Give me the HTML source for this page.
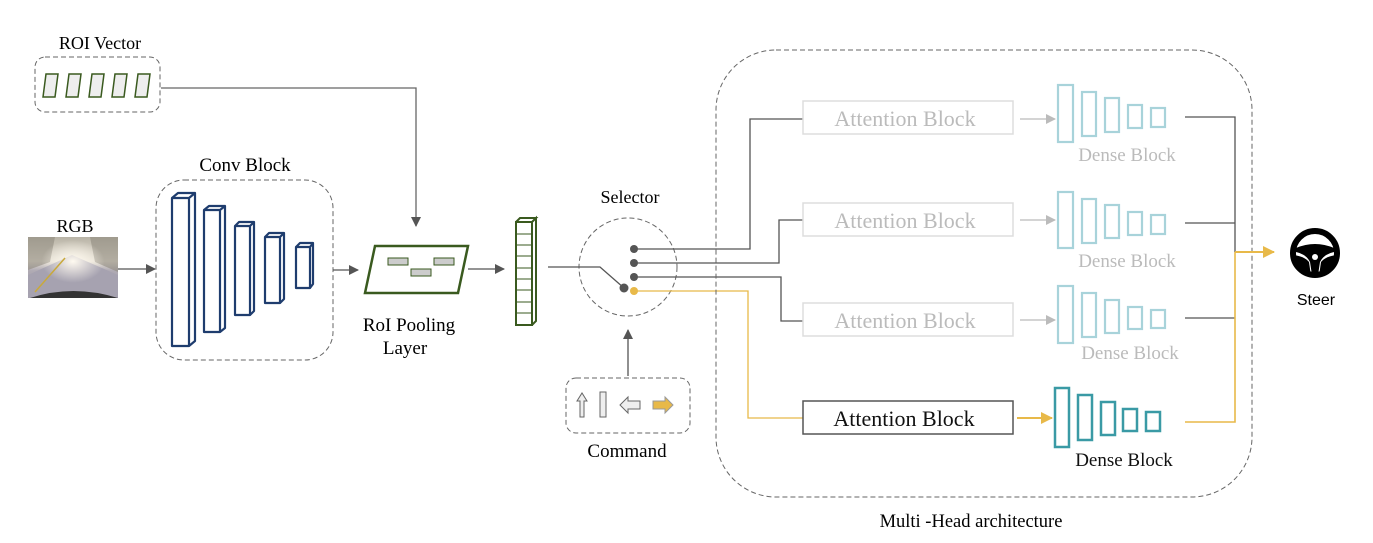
<!DOCTYPE html>
<html><head><meta charset="utf-8"><style>
html,body{margin:0;padding:0;background:#fff;}
svg{display:block;}
text{font-family:"Liberation Serif",serif;}
</style></head><body>
<svg width="1373" height="543" viewBox="0 0 1373 543" xmlns="http://www.w3.org/2000/svg">
<defs>
<marker id="ag" markerWidth="10" markerHeight="10" refX="9" refY="5" orient="auto" markerUnits="userSpaceOnUse"><path d="M0,0 L10,5 L0,10 Z" fill="#555"/></marker>
<marker id="al" markerWidth="10" markerHeight="10" refX="9" refY="5" orient="auto" markerUnits="userSpaceOnUse"><path d="M0,0 L10,5 L0,10 Z" fill="#bbb"/></marker>
<marker id="ay" markerWidth="12" markerHeight="12" refX="11" refY="6" orient="auto" markerUnits="userSpaceOnUse"><path d="M0,0 L12,6 L0,12 Z" fill="#e8b949"/></marker>
<linearGradient id="sky" x1="0" y1="0" x2="0" y2="1"><stop offset="0" stop-color="#b8b3a6"/><stop offset="0.4" stop-color="#e8e2d6"/><stop offset="0.55" stop-color="#b0abb4"/><stop offset="1" stop-color="#9a95a0"/></linearGradient>
<radialGradient id="sun" cx="0.5" cy="0.4" r="0.35"><stop offset="0" stop-color="#fffaf0"/><stop offset="1" stop-color="#fffaf0" stop-opacity="0"/></radialGradient>
</defs>

<!-- ROI Vector -->
<text x="100" y="49" font-size="18" text-anchor="middle">ROI Vector</text>
<rect x="35" y="57" width="125" height="55" rx="10" fill="none" stroke="#666" stroke-dasharray="5,3"/>
<g fill="#eee" stroke="#3a5a1f" stroke-width="1.5">
<path d="M46,74 H58 L55,97 H43 Z"/><path d="M69,74 H81 L78,97 H66 Z"/><path d="M92,74 H104 L101,97 H89 Z"/><path d="M115,74 H127 L124,97 H112 Z"/><path d="M138,74 H150 L147,97 H135 Z"/>
</g>
<polyline points="161,88 416,88 416,226" fill="none" stroke="#666" stroke-width="1.3" marker-end="url(#ag)"/>

<!-- RGB -->
<text x="75" y="232" font-size="18" text-anchor="middle">RGB</text>
<rect x="28" y="237" width="90" height="61" fill="url(#sky)"/>
<path d="M28,237 L28,270 L50,262 L55,237 Z" fill="#8f8a7e" opacity="0.6"/>
<path d="M118,237 L118,272 L95,262 L90,237 Z" fill="#8f8a7e" opacity="0.6"/>
<path d="M28,275 L72,255 L118,275 L118,298 L28,298 Z" fill="#a6a2b0"/>
<rect x="28" y="237" width="90" height="61" fill="url(#sun)"/>
<path d="M35,292 L65,258" stroke="#c9a93a" stroke-width="1.5"/>
<path d="M30,298 Q73,284 118,298 Z" fill="#333"/>
<line x1="118" y1="269" x2="155" y2="269" stroke="#555" stroke-width="1.3" marker-end="url(#ag)"/>

<!-- Conv block -->
<text x="245" y="171" font-size="19" text-anchor="middle">Conv Block</text>
<rect x="156" y="180" width="177" height="180" rx="28" fill="none" stroke="#666" stroke-dasharray="5,3"/>
<g fill="#fff" stroke="#1f3d6e" stroke-width="2.2" stroke-linejoin="round">
<path d="M172,198 h17 v148 h-17 Z M172,198 l6,-5 h17 l-6,5 M189,198 l6,-5 v148 l-6,5"/>
<path d="M204,210 h16 v122 h-16 Z M204,210 l5,-4 h16 l-5,4 M220,210 l5,-4 v122 l-5,4"/>
<path d="M235,226 h15 v89 h-15 Z M235,226 l4,-4 h15 l-4,4 M250,226 l4,-4 v89 l-4,4"/>
<path d="M265,237 h15 v66 h-15 Z M265,237 l4,-4 h15 l-4,4 M280,237 l4,-4 v66 l-4,4"/>
<path d="M296,247 h14 v41 h-14 Z M296,247 l4,-4 h13 l-3,4 M310,247 l3,-4 v41 l-3,4"/>
</g>
<line x1="333" y1="270" x2="358" y2="270" stroke="#555" stroke-width="1.3" marker-end="url(#ag)"/>

<!-- RoI pooling -->
<path d="M375,246 H468 L458,293 H365 Z" fill="#fff" stroke="#3a5a1f" stroke-width="2.5"/>
<g fill="#ccc" stroke="#3a5a1f" stroke-width="1"><rect x="388" y="258" width="20" height="7"/><rect x="434" y="258" width="20" height="7"/><rect x="411" y="269" width="20" height="7"/></g>
<text x="409" y="331" font-size="19" text-anchor="middle">RoI Pooling</text>
<text x="405" y="354" font-size="19" text-anchor="middle">Layer</text>
<line x1="468" y1="269" x2="504" y2="269" stroke="#555" stroke-width="1.3" marker-end="url(#ag)"/>

<!-- feature column -->
<g fill="#fff" stroke="#3a5a1f" stroke-width="2">
<path d="M516,222 h16 v103 h-16 Z M516,222 l4,-4 h16 l-4,4 M532,222 l4,-4 v103 l-4,4"/>
</g>
<g stroke="#3a5a1f" stroke-width="1">
<line x1="516" y1="234" x2="532" y2="234"/><line x1="516" y1="245" x2="532" y2="245"/><line x1="516" y1="256" x2="532" y2="256"/><line x1="516" y1="268" x2="532" y2="268"/><line x1="516" y1="279" x2="532" y2="279"/><line x1="516" y1="290" x2="532" y2="290"/><line x1="516" y1="302" x2="532" y2="302"/><line x1="516" y1="313" x2="532" y2="313"/>
</g>

<!-- selector -->
<text x="630" y="203" font-size="18" text-anchor="middle">Selector</text>
<circle cx="628" cy="267" r="49" fill="none" stroke="#666" stroke-dasharray="5,3"/>
<polyline points="548,267 600,267 624,288" fill="none" stroke="#555" stroke-width="1.3"/>
<g fill="none" stroke-width="1.3">
<polyline points="634,249 750,249 750,119 803,119" stroke="#555"/>
<polyline points="634,263 779,263 779,220 803,220" stroke="#555"/>
<polyline points="634,277 781,277 781,321 803,321" stroke="#555"/>
<polyline points="634,291 748,291 748,418 803,418" stroke="#e8b949"/>
</g>
<circle cx="624" cy="288" r="4.5" fill="#555"/>
<circle cx="634" cy="249" r="4" fill="#555"/><circle cx="634" cy="263" r="4" fill="#555"/><circle cx="634" cy="277" r="4" fill="#555"/><circle cx="634" cy="291" r="4" fill="#e8b949"/>
<line x1="628" y1="376" x2="628" y2="330" stroke="#555" stroke-width="1.3" marker-end="url(#ag)"/>

<!-- command -->
<rect x="566" y="378" width="124" height="55" rx="10" fill="none" stroke="#666" stroke-dasharray="5,3"/>
<path d="M580,417 v-16 h-3 l5,-8 l5,8 h-3 v16 Z" fill="#eee" stroke="#666"/>
<rect x="600" y="392" width="6" height="25" fill="#eee" stroke="#666"/>
<path d="M640,401 h-12 v-4 l-8,8 l8,8 v-4 h12 Z" fill="#eee" stroke="#666"/>
<path d="M653,401 h12 v-4 l8,8 l-8,8 v-4 h-12 Z" fill="#e8b949" stroke="#999"/>
<text x="627" y="457" font-size="19" text-anchor="middle">Command</text>

<!-- multi-head -->
<rect x="716" y="50" width="536" height="447" rx="60" fill="none" stroke="#666" stroke-dasharray="5,3"/>
<text x="971" y="527" font-size="18.5" text-anchor="middle">Multi -Head architecture</text>

<g fill="#fff" stroke="#ddd" stroke-width="1.5">
<rect x="803" y="101" width="210" height="33"/><rect x="803" y="203" width="210" height="33"/><rect x="803" y="303" width="210" height="33"/>
</g>
<rect x="803" y="401" width="210" height="33" fill="#fff" stroke="#555" stroke-width="1.5"/>
<g font-size="22" text-anchor="middle" fill="#bbb">
<text x="905" y="126">Attention Block</text><text x="905" y="228">Attention Block</text><text x="905" y="328">Attention Block</text>
</g>
<text x="904" y="426" font-size="22" text-anchor="middle" fill="#111">Attention Block</text>

<line x1="1020" y1="119" x2="1055" y2="119" stroke="#bbb" stroke-width="1.3" marker-end="url(#al)"/>
<line x1="1020" y1="220" x2="1055" y2="220" stroke="#bbb" stroke-width="1.3" marker-end="url(#al)"/>
<line x1="1020" y1="320" x2="1055" y2="320" stroke="#bbb" stroke-width="1.3" marker-end="url(#al)"/>
<line x1="1017" y1="418" x2="1052" y2="418" stroke="#e8b949" stroke-width="2" marker-end="url(#ay)"/>

<g fill="none" stroke="#a8d3da" stroke-width="2.2">
<rect x="1058" y="85" width="15" height="57"/><rect x="1082" y="92" width="14" height="44"/><rect x="1105" y="98" width="14" height="34"/><rect x="1128" y="105" width="14" height="23"/><rect x="1151" y="108" width="14" height="19"/>
<rect x="1058" y="192" width="15" height="56"/><rect x="1082" y="199" width="14" height="44"/><rect x="1105" y="205" width="14" height="33"/><rect x="1128" y="212" width="14" height="23"/><rect x="1151" y="215" width="14" height="19"/>
<rect x="1058" y="286" width="15" height="57"/><rect x="1082" y="293" width="14" height="44"/><rect x="1105" y="300" width="14" height="33"/><rect x="1128" y="307" width="14" height="22"/><rect x="1151" y="310" width="14" height="18"/>
</g>
<g fill="none" stroke="#3a9aa5" stroke-width="2.5">
<rect x="1055" y="388" width="14" height="59"/><rect x="1078" y="395" width="14" height="45"/><rect x="1101" y="402" width="14" height="33"/><rect x="1123" y="409" width="14" height="22"/><rect x="1146" y="412" width="14" height="19"/>
</g>
<g font-size="19" text-anchor="middle" fill="#bbb">
<text x="1127" y="161">Dense Block</text><text x="1127" y="267">Dense Block</text><text x="1130" y="359">Dense Block</text>
</g>
<text x="1124" y="466" font-size="19" text-anchor="middle" fill="#111">Dense Block</text>

<g fill="none" stroke-width="1.3">
<polyline points="1185,117 1235,117 1235,252" stroke="#555"/>
<line x1="1185" y1="223" x2="1235" y2="223" stroke="#555"/>
<line x1="1185" y1="318" x2="1235" y2="318" stroke="#555"/>
<polyline points="1185,422 1235,422 1235,252" stroke="#e8b949" stroke-width="1.6"/>
</g>
<line x1="1235" y1="252" x2="1274" y2="252" stroke="#e8b949" stroke-width="2" marker-end="url(#ay)"/>

<!-- steering wheel -->
<circle cx="1315" cy="253" r="22" fill="none" stroke="#000" stroke-width="6"/>
<path d="M1296,248 Q1315,240 1334,248 L1334,252 Q1324,254 1320,262 L1318,275 L1312,275 L1310,262 Q1306,254 1296,252 Z" fill="#000"/>
<path d="M1293,255 Q1304,256 1309,262 L1311,276 Q1298,272 1293,258 Z" fill="#000"/>
<path d="M1337,255 Q1326,256 1321,262 L1319,276 Q1332,272 1337,258 Z" fill="#000"/>
<circle cx="1315" cy="257" r="3" fill="#fff"/>
<text x="1316" y="305" font-size="16" text-anchor="middle" style="font-family:'Liberation Sans',sans-serif">Steer</text>
</svg>
</body></html>
